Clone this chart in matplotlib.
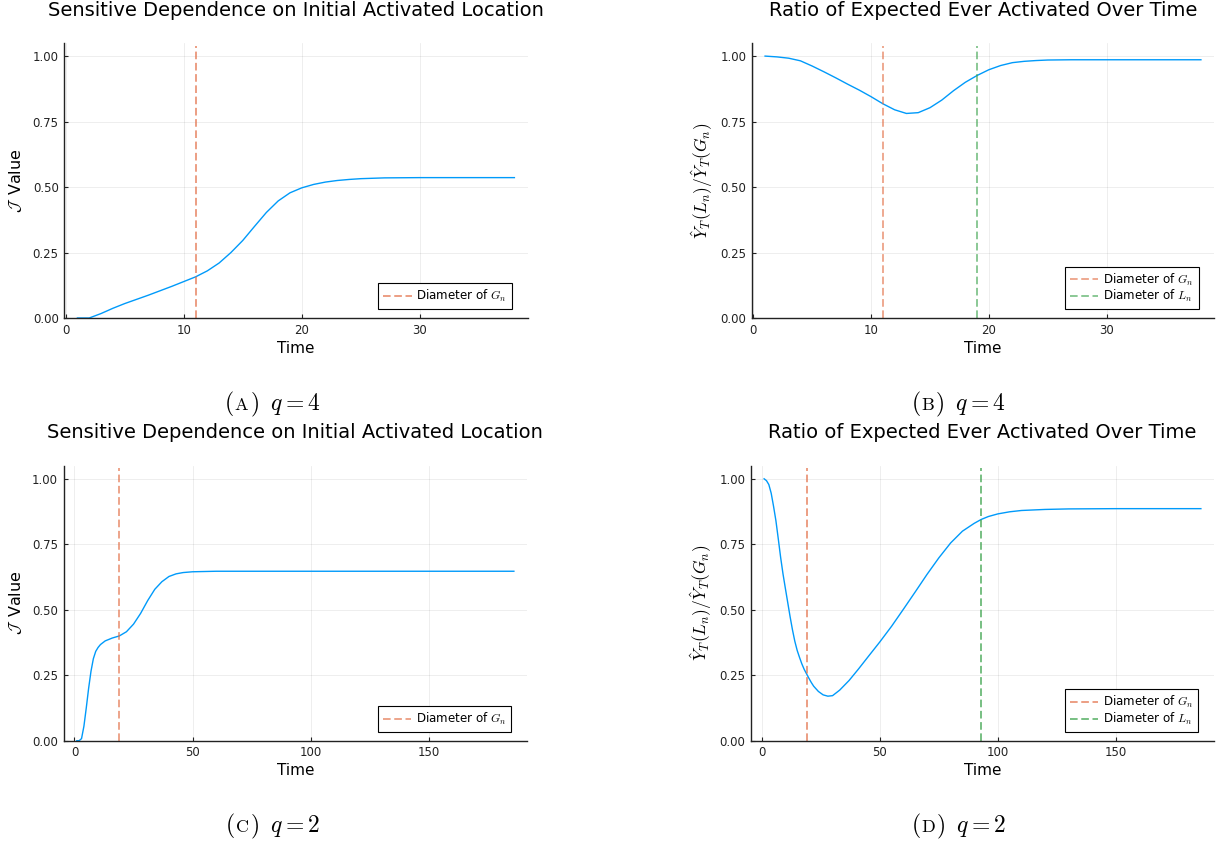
import matplotlib
matplotlib.use("Agg")
import matplotlib.pyplot as plt
import numpy as np

plt.rcParams['font.family'] = ['DejaVu Sans']
plt.rcParams['mathtext.fontset'] = 'cm'

# ---------------- data ----------------
# (A) q = 4 : sensitive dependence
t_a = [1, 2, 3, 4, 5, 6, 7, 8, 9, 10, 11, 12, 13, 14, 15, 16, 17, 18, 19, 20,
       21, 22, 23, 24, 25, 27, 30, 34, 38]
v_a = [0.0, 0.0, 0.017, 0.037, 0.055, 0.071, 0.087, 0.104, 0.121, 0.139, 0.157,
       0.180, 0.210, 0.250, 0.296, 0.350, 0.403, 0.447, 0.478, 0.497,
       0.510, 0.519, 0.525, 0.529, 0.532, 0.535, 0.536, 0.536, 0.536]

# (B) q = 4 : ratio
t_b = [1, 2, 3, 4, 5, 6, 7, 8, 9, 10, 11, 12, 13, 14, 15, 16, 17, 18, 19, 20,
       21, 22, 23, 24, 25, 27, 30, 34, 38]
v_b = [1.0, 0.997, 0.992, 0.982, 0.962, 0.940, 0.917, 0.893, 0.870, 0.845, 0.818,
       0.795, 0.781, 0.784, 0.803, 0.832, 0.868, 0.900, 0.926, 0.948,
       0.964, 0.975, 0.980, 0.983, 0.985, 0.986, 0.986, 0.986, 0.986]

# (C) q = 2 : sensitive dependence
t_c = [1, 2, 3, 4, 5, 6, 7, 8, 9, 10, 11, 13, 16, 19, 22, 25, 28, 31, 34, 37,
       40, 43, 46, 50, 60, 80, 120, 186]
v_c = [0.0, 0.0, 0.008, 0.055, 0.125, 0.200, 0.265, 0.313, 0.341, 0.356, 0.367,
       0.381, 0.392, 0.400, 0.416, 0.445, 0.486, 0.535, 0.578, 0.607,
       0.627, 0.637, 0.642, 0.645, 0.647, 0.647, 0.647, 0.647]

# (D) q = 2 : ratio
t_d = [1, 2, 3, 4, 5, 6, 7, 8, 9, 10, 11, 12, 13, 14, 15, 16, 17, 18, 19, 20,
       21, 22, 24, 26, 28, 30, 33, 37, 41, 45, 50, 55, 60, 65, 70, 75, 80, 85,
       90, 93, 96, 100, 105, 110, 120, 130, 150, 186]
v_d = [1.0, 0.993, 0.978, 0.945, 0.895, 0.840, 0.771, 0.700, 0.637, 0.582,
       0.528, 0.474, 0.424, 0.380, 0.345, 0.318, 0.293, 0.272, 0.255, 0.238,
       0.222, 0.208, 0.188, 0.175, 0.170, 0.172, 0.193, 0.230, 0.274, 0.320,
       0.377, 0.437, 0.502, 0.568, 0.635, 0.698, 0.755, 0.800, 0.830, 0.845,
       0.856, 0.866, 0.874, 0.879, 0.883, 0.885, 0.886, 0.886]

diam_G_q4, diam_L_q4 = 11, 19
diam_G_q2, diam_L_q2 = 19, 93

title_sd = "Sensitive Dependence on Initial Activated Location"
title_ratio = "Ratio of Expected Ever Activated Over Time"
ylabel_sd = r"$\mathcal{J}\,$ Value"
ylabel_ratio = r"$\hat{Y}_T(L_n)/\hat{Y}_T(G_n)$"
xlabel = "Time"
yticks = [0.0, 0.25, 0.5, 0.75, 1.0]
xticks_q4 = [0, 10, 20, 30]
xticks_q2 = [0, 50, 100, 150]
captions = [("A", "4"), ("B", "4"), ("C", "2"), ("D", "2")]

# ---------------- styling ----------------
W, H = 1217, 843
BLUE = "#009AFA"
RED = "#E26F46"
GREEN = "#3EA44E"

fig = plt.figure(figsize=(W / 100, H / 100), dpi=100)


def px_axes(l, t, r, b):
    return fig.add_axes([l / W, 1 - b / H, (r - l) / W, (b - t) / H])


def style(ax, xlim, xticks):
    ax.set_xlim(*xlim)
    ax.set_ylim(0, 1.05)
    ax.set_xticks(xticks)
    ax.set_yticks(yticks)
    ax.set_yticklabels([f"{v:.2f}" for v in yticks])
    for s in ("top", "right"):
        ax.spines[s].set_visible(False)
    for s in ("left", "bottom"):
        ax.spines[s].set_linewidth(1.0)
        ax.spines[s].set_color("#222222")
    ax.tick_params(direction="in", length=3, width=0.8, labelsize=8.5,
                   colors="#222222", pad=4)
    ax.grid(True, color="black", alpha=0.08, linewidth=0.6)
    ax.set_axisbelow(True)
    ax.set_xlabel(xlabel, fontsize=11, labelpad=3)


def vline(ax, x, color, alpha, lw, label):
    ax.axvline(x, color=color, alpha=alpha, lw=lw, dashes=(5.5 / lw, 2.6 / lw),
               label=label, ymax=0.99)


def legend(ax):
    lg = ax.legend(loc="lower right", fontsize=8.6, frameon=True, fancybox=False,
                   edgecolor="black", framealpha=1, handlelength=2.4,
                   borderpad=0.4, labelspacing=0.05, handletextpad=0.4,
                   borderaxespad=0, bbox_to_anchor=(0.9665, 0.033))
    lg.get_frame().set_linewidth(0.8)


def title(ax, text, ypix):
    pos = ax.get_position()
    fig.text((pos.x0 + pos.x1) / 2, 1 - ypix / H, text, ha="center", va="center",
             fontsize=14)


# (A)
axA = px_axes(64.3, 43, 527.5, 318)
axA.plot(t_a, v_a, color=BLUE, lw=1.0)
vline(axA, diam_G_q4, RED, 0.85, 1.1, r"Diameter of $G_n$")
style(axA, (-0.11, 39.11), xticks_q4)
axA.set_ylabel(ylabel_sd, fontsize=11.5, labelpad=6)
legend(axA)
title(axA, title_sd, 10)

# (B)
axB = px_axes(752, 43, 1214, 318)
axB.plot(t_b, v_b, color=BLUE, lw=1.0)
vline(axB, diam_G_q4, RED, 0.6, 1.4, r"Diameter of $G_n$")
vline(axB, diam_L_q4, GREEN, 0.7, 1.2, r"Diameter of $L_n$")
style(axB, (-0.11, 39.11), xticks_q4)
axB.set_ylabel(ylabel_ratio, fontsize=12.5, labelpad=4)
legend(axB)
title(axB, title_ratio, 10)

# (C)
axC = px_axes(63.7, 465.7, 527, 740.7)
axC.plot(t_c, v_c, color=BLUE, lw=1.0)
vline(axC, diam_G_q2, RED, 0.8, 1.1, r"Diameter of $G_n$")
style(axC, (-4.55, 191.55), xticks_q2)
axC.set_ylabel(ylabel_sd, fontsize=11.5, labelpad=6)
legend(axC)
title(axC, title_sd, 432)

# (D)
axD = px_axes(751, 465.7, 1214, 740.7)
axD.plot(t_d, v_d, color=BLUE, lw=1.0)
vline(axD, diam_G_q2, RED, 0.85, 1.1, r"Diameter of $G_n$")
vline(axD, diam_L_q2, GREEN, 0.7, 1.4, r"Diameter of $L_n$")
style(axD, (-4.55, 191.55), xticks_q2)
axD.set_ylabel(ylabel_ratio, fontsize=12.5, labelpad=4)
legend(axD)
title(axD, title_ratio, 432)

# captions "(A) q = 4" with small-caps letter
renderer = fig.canvas.get_renderer()
cap_pos = [(272, 410), (958, 410), (272, 832), (958, 832)]
for (letter, q), (xc, yb) in zip(captions, cap_pos):
    parts = [(r"$\mathrm{(}$", 17), (r"$\mathrm{" + letter + r"}$", 13),
             (r"$\mathrm{)}\;\;q = " + q + r"$", 17)]
    texts = [fig.text(0, 1 - yb / H, s, fontsize=fs, ha="left", va="baseline")
             for s, fs in parts]
    widths = [t.get_window_extent(renderer).width for t in texts]
    x = xc - sum(widths) / 2
    for t, w in zip(texts, widths):
        t.set_x(x / W)
        x += w + 0.5

fig.savefig("out.png", dpi=100)
